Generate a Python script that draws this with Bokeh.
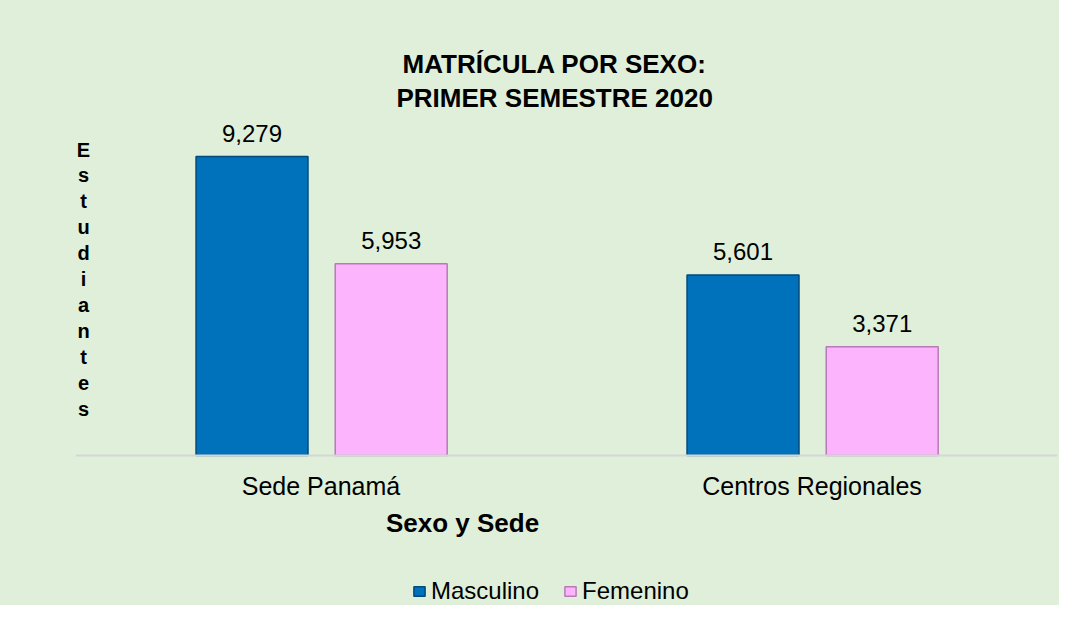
from bokeh.plotting import figure
from bokeh.models import (ColumnDataSource, FactorRange, Range1d, Title, Label,
                          Legend, LegendItem, Span)
from bokeh.transform import dodge
from bokeh.core.properties import value
from bokeh.embed import file_html
from bokeh.resources import INLINE

# ---- data ----
sedes = ["Sede Panamá", "Centros Regionales"]
masculino = [9279, 5601]
femenino = [5953, 3371]
series_names = ["Masculino", "Femenino"]
title_lines = ["MATRÍCULA POR SEXO:", "PRIMER SEMESTRE 2020"]
x_title = "Sexo y Sede"
y_title = "Estudiantes"

FONT = "Liberation Sans"
BG = "#dfefda"
BLUE = "#0072bc"
BLUE_EDGE = "#004a7c"
PINK = "#fcb4fc"
PINK_EDGE = "#b77ab7"

src = ColumnDataSource(data=dict(
    sede=sedes,
    masc=masculino,
    fem=femenino,
    masc_lbl=[f"{v:,}" for v in masculino],
    fem_lbl=[f"{v:,}" for v in femenino],
    zero=[0] * len(sedes),
))

# frame: 343 px above the baseline, 150 px below it (room for labels & legend)
ymax = max(masculino + femenino) * 1.147
ymin = -ymax * 150 / 343

p = figure(width=1059, height=605, x_range=FactorRange(*sedes),
           y_range=Range1d(ymin, ymax), output_backend="svg", toolbar_location=None,
           min_border_left=75, min_border_right=2, min_border_top=112,
           min_border_bottom=0, title=None)
p.background_fill_alpha = 0
p.border_fill_alpha = 0
p.styles = {"background-color": BG}
p.outline_line_color = None
p.grid.visible = False
p.xaxis.visible = False
p.yaxis.visible = False

# baseline (category axis line)
p.add_layout(Span(location=0, dimension="width", line_color="#d4d8d3", line_width=2))

bw = 0.228
r_m = p.vbar(x=dodge("sede", -0.1405, range=p.x_range), top="masc", width=bw,
             source=src, fill_color=BLUE, line_color=BLUE_EDGE, line_width=1.5)
r_f = p.vbar(x=dodge("sede", 0.1430, range=p.x_range), top="fem", width=bw,
             source=src, fill_color=PINK, line_color=PINK_EDGE, line_width=1.5)

lbl_kw = dict(source=src, text_align="center", text_baseline="alphabetic",
              y_offset=-23, text_font=value(FONT), text_font_size="24px",
              text_color="black")
p.text(x=dodge("sede", -0.1405, range=p.x_range), y="masc", text="masc_lbl", **lbl_kw)
p.text(x=dodge("sede", 0.1430, range=p.x_range), y="fem", text="fem_lbl", **lbl_kw)

# category labels
p.text(x="sede", y="zero", text="sede", source=src, text_align="center",
       text_baseline="alphabetic", y_offset=30, text_font=value(FONT),
       text_font_size="25px", text_color="black")

# titles (second line added first: closest to frame)
title_offsets = [321, 327]   # line 2, line 1 (from the frame's left edge)
for i, line in enumerate(reversed(title_lines)):
    p.add_layout(Title(text=line, align="left", offset=title_offsets[i], text_font=FONT,
                       text_font_size="26px", text_font_style="bold",
                       text_color="black", standoff=0 if i == 0 else 3), "above")

# x axis title
p.add_layout(Label(x=387, y=605 - 522, x_units="screen", y_units="screen",
                   text=x_title, text_align="center", text_baseline="alphabetic",
                   text_font=FONT, text_font_size="26px", text_font_style="bold",
                   text_color="black"))

# y axis title, stacked letters
p.add_layout(Label(x=8, y=605 - 138, x_units="screen", y_units="screen",
                   text="\n".join(y_title), text_align="center", text_baseline="top",
                   text_font=FONT, text_font_size="20px", text_font_style="bold",
                   text_line_height=1.18, text_color="black"))

legend = Legend(items=[LegendItem(label=series_names[0], renderers=[r_m]),
                       LegendItem(label=series_names[1], renderers=[r_f])],
                orientation="horizontal", location=(337, 0),
                label_text_font=FONT, label_text_font_size="24px",
                label_text_color="black", glyph_width=14, glyph_height=12,
                label_standoff=5, spacing=24, padding=0, margin=0,
                border_line_color=None, background_fill_alpha=0)
p.add_layout(legend, "center")

open("out.html", "w").write(file_html(p, INLINE))
